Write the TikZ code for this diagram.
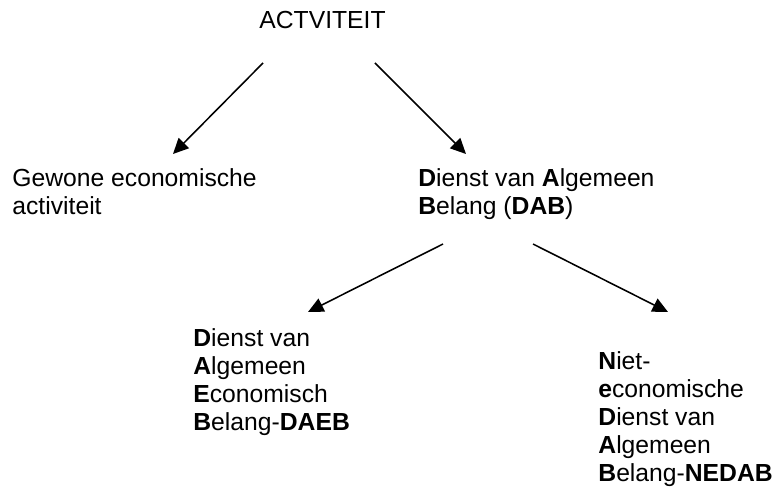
\documentclass[tikz,border=0pt]{standalone}
\usepackage{fontspec}
\setmainfont{Liberation Sans}
\usetikzlibrary{arrows.meta}

\begin{document}
\begin{tikzpicture}[x=0.486pt,y=-0.486pt,
  lbl/.style={anchor=base west,inner sep=0pt,align=left,
    font=\fontsize{12pt}{13.7pt}\selectfont},
  pijl/.style={-{Triangle[length=7.5pt,width=7pt]},line width=0.75pt}]
  \useasboundingbox (0,0) rectangle (778,487);
  % Tekst (base = basislijn van de laatste regel)
  \node[lbl] (act) at (259,29) {ACTVITEIT};
  \node[lbl] (gew) at (12,215) {Gewone economische\\activiteit};
  \node[lbl] (dab) at (418,215)
    {\textbf{D}ienst van \textbf{A}lgemeen\\\textbf{B}elang (\textbf{DAB})};
  \node[lbl] (daeb) at (193,431)
    {\textbf{D}ienst van\\\textbf{A}lgemeen\\\textbf{E}conomisch\\\textbf{B}elang-\textbf{DAEB}};
  \node[lbl] (nedab) at (598,482)
    {\textbf{N}iet-\\\textbf{e}conomische\\\textbf{D}ienst van\\\textbf{A}lgemeen\\\textbf{B}elang-\textbf{NEDAB}};
  % Pijlen
  \coordinate (act-l) at (263,63);
  \coordinate (act-r) at (375,63);
  \coordinate (gew-top) at (173,154);
  \coordinate (dab-top) at (466,154);
  \coordinate (dab-l) at (443,244);
  \coordinate (dab-r) at (533,244);
  \coordinate (daeb-top) at (308,312);
  \coordinate (nedab-top) at (668,312);
  \draw[pijl] (act-l) -- (gew-top);
  \draw[pijl] (act-r) -- (dab-top);
  \draw[pijl] (dab-l) -- (daeb-top);
  \draw[pijl] (dab-r) -- (nedab-top);
\end{tikzpicture}
\end{document}
